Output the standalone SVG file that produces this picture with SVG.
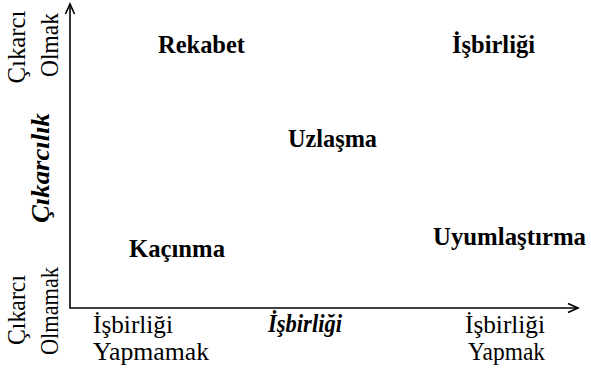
<svg xmlns="http://www.w3.org/2000/svg" width="591" height="376" viewBox="0 0 591 376">
<style>
text{font-family:'Liberation Serif','Times New Roman',serif;font-size:24.5px;fill:#000}
.b{font-weight:bold}
.bi{font-weight:bold;font-style:italic}
.ax{stroke:#000;stroke-width:1.6;fill:none}
.ah{stroke:#000;stroke-width:1.6;fill:none;stroke-linejoin:miter}
</style>
<rect width="591" height="376" fill="#fff"/>
<g id="axes">
<path class="ax" d="M70,5 V308 H577"/>
<path class="ah" d="M65.5,14 L70,4 L74.5,14"/>
<path class="ah" d="M568,303.5 L578,308 L568,312.5"/>
</g>
<g id="y-labels">
<text transform="translate(24.5,47) rotate(-90)" text-anchor="middle" textLength="73" lengthAdjust="spacingAndGlyphs">Çıkarcı</text>
<text transform="translate(58,45) rotate(-90)" text-anchor="middle" textLength="64" lengthAdjust="spacingAndGlyphs">Olmak</text>
<text class="bi" transform="translate(49,168) rotate(-90)" text-anchor="middle" textLength="110" lengthAdjust="spacingAndGlyphs">Çıkarcılık</text>
<text transform="translate(24.5,310) rotate(-90)" text-anchor="middle" textLength="70" lengthAdjust="spacingAndGlyphs">Çıkarcı</text>
<text transform="translate(58,311) rotate(-90)" text-anchor="middle" textLength="88" lengthAdjust="spacingAndGlyphs">Olmamak</text>
</g>
<g id="x-labels">
<text x="93" y="333" textLength="80" lengthAdjust="spacingAndGlyphs">İşbirliği</text>
<text x="93" y="360" textLength="116" lengthAdjust="spacingAndGlyphs">Yapmamak</text>
<text class="bi" x="268" y="332" textLength="74" lengthAdjust="spacingAndGlyphs">İşbirliği</text>
<text x="465" y="333" textLength="80" lengthAdjust="spacingAndGlyphs">İşbirliği</text>
<text x="468" y="360" textLength="77" lengthAdjust="spacingAndGlyphs">Yapmak</text>
</g>
<g id="rekabet"><text class="b" x="158" y="53" textLength="87" lengthAdjust="spacingAndGlyphs">Rekabet</text></g>
<g id="isbirligi"><text class="b" x="452" y="53" textLength="83" lengthAdjust="spacingAndGlyphs">İşbirliği</text></g>
<g id="uzlasma"><text class="b" x="288" y="147" textLength="89" lengthAdjust="spacingAndGlyphs">Uzlaşma</text></g>
<g id="kacinma"><text class="b" x="129" y="257" textLength="96" lengthAdjust="spacingAndGlyphs">Kaçınma</text></g>
<g id="uyumlastirma"><text class="b" x="433" y="245" textLength="153" lengthAdjust="spacingAndGlyphs">Uyumlaştırma</text></g>
</svg>
